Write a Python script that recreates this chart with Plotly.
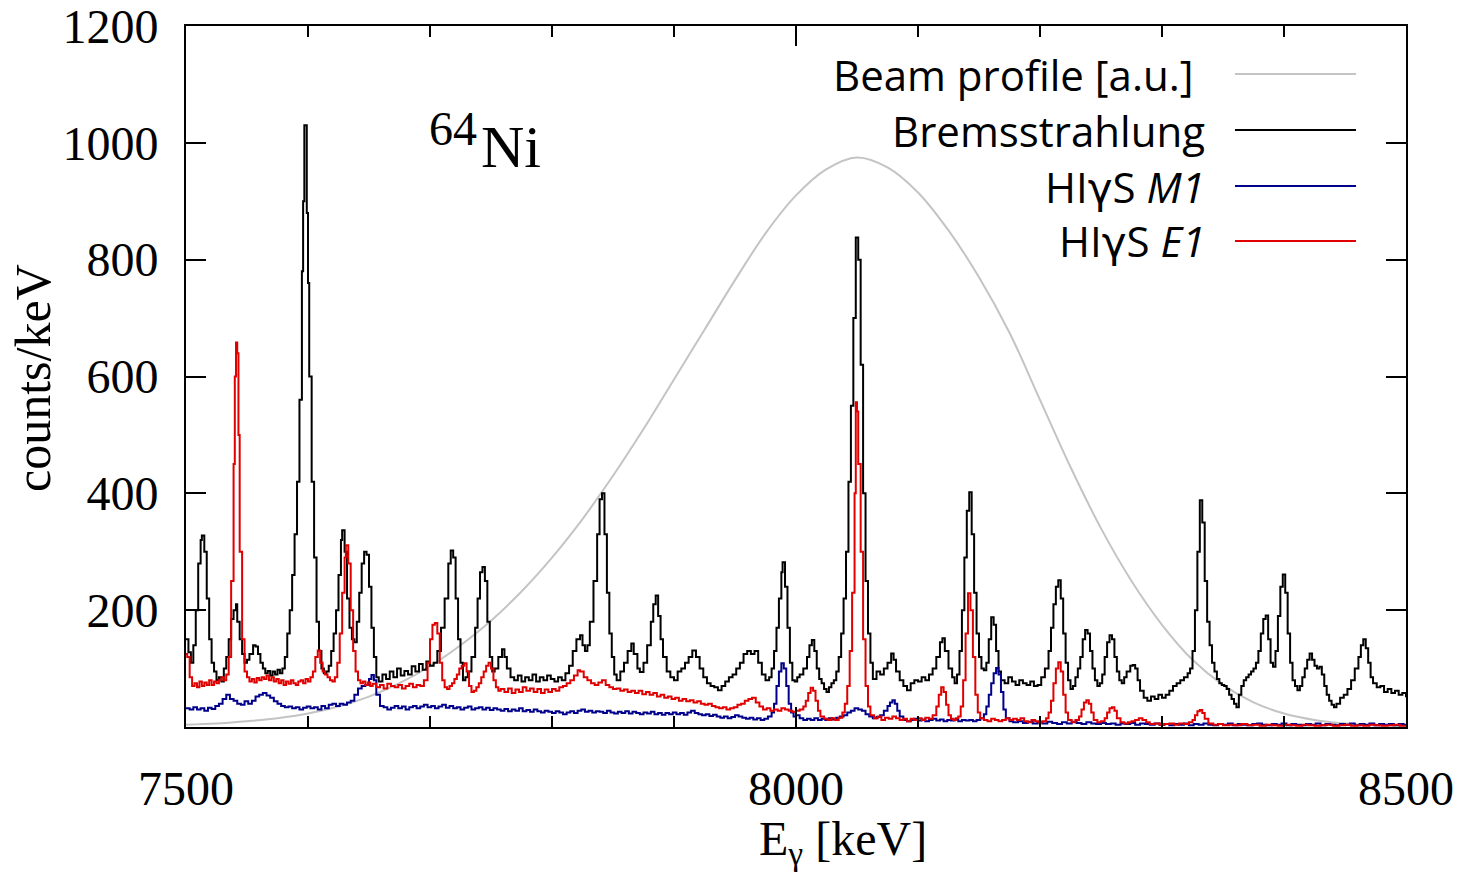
import plotly.graph_objects as go

# ---------------- data ----------------
# Beam profile [a.u.] : (E keV, value)
beam_E = [7500, 7525, 7550, 7575, 7600, 7625, 7650, 7675, 7700, 7725, 7750, 7775,
          7800, 7825, 7850, 7875, 7900, 7925, 7950, 7975, 8000, 8025, 8050, 8075,
          8100, 8125, 8150, 8175, 8200, 8225, 8250, 8275, 8300, 8325, 8350, 8375,
          8400, 8425, 8450, 8475, 8500]
beam_val = [4, 6, 10, 15, 23, 35, 52, 75, 104, 140, 182, 232,
            290, 356, 430, 510, 595, 680, 765, 845, 910, 955, 975, 958,
            915, 850, 770, 675, 560, 445, 340, 250, 175, 115, 72, 42,
            23, 12, 6, 3, 2]

# Bremsstrahlung spectrum (E keV, counts/keV)
brems = [
    (7500,150),(7502,128),(7504,110),(7506,140),(7508,200),(7510,280),(7512,320),(7513,328),
    (7515,300),(7517,220),(7519,150),(7521,110),(7523,95),(7525,80),(7527,85),(7529,78),
    (7531,100),(7533,120),(7535,150),(7537,185),(7539,200),(7541,210),(7542,180),(7544,150),
    (7546,125),(7548,110),(7550,115),(7552,125),(7555,140),(7557,138),(7559,125),(7561,110),
    (7563,100),(7565,92),(7567,96),(7569,88),(7571,95),(7573,90),(7575,98),(7577,92),
    (7579,100),(7581,120),(7583,160),(7585,200),(7587,260),(7589,330),(7591,420),(7593,560),
    (7595,780),(7596,900),(7597,1030),(7598,1030),(7599,880),(7600,760),(7601,600),(7603,420),
    (7605,290),(7607,180),(7609,130),(7611,100),(7613,92),(7615,95),(7617,105),(7619,130),
    (7621,160),(7623,200),(7625,260),(7627,320),(7628,337),(7630,300),(7632,220),(7634,170),
    (7636,150),(7638,145),(7640,180),(7642,230),(7644,280),(7646,300),(7648,295),(7650,240),
    (7652,170),(7654,120),(7656,85),(7658,78),(7661,90),(7664,82),(7667,95),(7670,85),
    (7673,100),(7676,88),(7679,96),(7682,90),(7685,104),(7688,95),(7691,108),(7694,98),
    (7697,112),(7700,105),(7703,110),(7706,130),(7709,170),(7712,220),(7715,280),(7717,302),
    (7719,290),(7721,220),(7723,150),(7725,110),(7727,80),(7729,85),(7731,95),(7734,120),
    (7737,170),(7739,220),(7741,265),(7743,274),(7745,250),(7747,180),(7749,120),(7751,95),
    (7753,100),(7756,120),(7759,133),(7761,120),(7763,100),(7766,85),(7769,80),(7772,88),
    (7775,78),(7778,85),(7781,80),(7784,90),(7787,78),(7790,85),(7793,80),(7796,88),
    (7799,82),(7802,78),(7805,85),(7808,80),(7811,92),(7814,105),(7817,130),(7820,150),
    (7823,157),(7825,140),(7827,130),(7829,140),(7831,180),(7834,250),(7837,330),(7839,390),
    (7841,400),(7843,330),(7845,230),(7847,160),(7849,120),(7851,90),(7853,80),(7856,95),
    (7859,110),(7862,130),(7865,143),(7867,125),(7870,100),(7872,94),(7875,110),(7878,140),
    (7881,180),(7883,210),(7885,225),(7887,190),(7889,150),(7891,120),(7894,95),(7897,85),
    (7900,80),(7903,95),(7906,100),(7909,110),(7912,120),(7915,131),(7918,120),(7921,100),
    (7924,85),(7927,75),(7930,70),(7933,68),(7936,63),(7939,70),(7942,78),(7945,85),
    (7948,90),(7951,100),(7954,110),(7957,125),(7960,130),(7963,125),(7966,130),(7969,110),
    (7972,90),(7975,80),(7978,85),(7980,100),(7982,130),(7984,170),(7986,220),(7988,265),
    (7989,282),(7991,240),(7993,170),(7995,110),(7997,80),(7999,78),(8001,85),(8003,90),
    (8006,100),(8009,120),(8011,140),(8013,149),(8015,130),(8017,100),(8019,82),(8021,75),
    (8023,65),(8025,60),(8027,68),(8029,75),(8031,80),(8033,95),(8035,120),(8037,160),
    (8039,220),(8041,300),(8043,420),(8045,550),(8047,700),(8049,838),(8051,800),(8053,620),
    (8055,400),(8057,250),(8059,160),(8061,110),(8063,82),(8066,95),(8069,90),(8072,100),
    (8075,110),(8078,126),(8080,115),(8082,95),(8085,80),(8088,70),(8091,63),(8094,75),
    (8097,80),(8100,78),(8103,85),(8106,80),(8109,90),(8112,100),(8115,120),(8118,145),
    (8120,152),(8122,130),(8125,100),(8128,85),(8130,75),(8132,90),(8134,130),(8136,200),
    (8138,290),(8140,370),(8142,402),(8144,330),(8146,230),(8148,160),(8150,120),(8152,100),
    (8154,97),(8156,110),(8158,150),(8160,188),(8162,175),(8164,130),(8166,95),(8168,80),
    (8171,75),(8174,85),(8177,78),(8180,72),(8183,80),(8186,75),(8189,72),(8192,78),
    (8195,70),(8198,72),(8201,85),(8204,100),(8207,130),(8209,170),(8211,210),(8213,240),
    (8215,251),(8217,220),(8219,160),(8221,110),(8223,80),(8225,65),(8227,70),(8229,85),
    (8231,100),(8233,120),(8235,150),(8237,166),(8239,160),(8241,130),(8243,100),(8245,80),
    (8247,70),(8249,75),(8251,90),(8253,120),(8255,145),(8257,157),(8259,150),(8261,120),
    (8263,95),(8265,80),(8267,75),(8269,85),(8271,95),(8274,105),(8276,106),(8278,100),
    (8280,80),(8282,62),(8285,50),(8288,45),(8291,52),(8294,48),(8297,55),(8300,50),
    (8303,55),(8306,62),(8309,70),(8312,75),(8315,80),(8318,85),(8321,92),(8323,100),
    (8325,130),(8327,200),(8329,300),(8331,388),(8333,350),(8335,250),(8337,180),(8339,140),
    (8341,110),(8343,95),(8345,82),(8347,75),(8349,72),(8351,70),(8353,65),(8355,55),
    (8357,48),(8359,40),(8361,34),(8363,55),(8365,70),(8367,80),(8369,85),(8371,90),
    (8373,95),(8375,100),(8377,110),(8379,130),(8381,160),(8383,185),(8385,191),(8387,150),
    (8389,110),(8391,103),(8393,130),(8395,190),(8397,240),(8399,261),(8401,230),(8403,160),
    (8405,110),(8407,80),(8409,70),(8411,63),(8413,70),(8415,85),(8417,100),(8419,115),
    (8421,126),(8423,115),(8425,105),(8427,100),(8429,103),(8431,90),(8433,70),(8435,55),
    (8437,45),(8439,38),(8441,34),(8443,40),(8446,50),(8449,55),(8452,65),(8455,80),
    (8458,100),(8461,120),(8463,140),(8465,150),(8467,135),(8469,110),(8471,85),(8473,75),
    (8476,68),(8479,70),(8482,60),(8485,65),(8488,58),(8491,62),(8494,55),(8497,58),(8500,51),
]

# HIgS M1 spectrum
higs_m1 = [
    (7500,32),(7503,30),(7506,34),(7509,30),(7512,32),(7515,28),(7518,33),(7521,31),
    (7524,36),(7527,40),(7530,48),(7533,55),(7536,48),(7539,45),(7542,40),(7545,38),
    (7548,44),(7551,40),(7554,45),(7557,52),(7560,55),(7563,58),(7566,54),(7569,50),
    (7572,44),(7575,40),(7578,36),(7581,34),(7584,35),(7587,32),(7590,34),(7593,30),
    (7596,33),(7599,35),(7602,32),(7605,34),(7608,30),(7611,36),(7614,32),(7617,38),
    (7620,40),(7623,36),(7626,40),(7629,38),(7632,42),(7635,45),(7638,55),(7641,66),
    (7644,70),(7647,72),(7650,82),(7652,89),(7654,80),(7656,55),(7659,36),(7662,34),
    (7665,30),(7668,33),(7671,36),(7674,32),(7677,35),(7680,30),(7683,34),(7686,36),
    (7689,32),(7692,35),(7695,38),(7698,34),(7701,36),(7704,32),(7707,35),(7710,38),
    (7713,33),(7716,36),(7719,32),(7722,34),(7725,30),(7728,33),(7731,35),(7734,30),
    (7737,32),(7740,34),(7743,30),(7746,33),(7749,29),(7752,32),(7755,30),(7758,28),
    (7761,31),(7764,27),(7767,30),(7770,28),(7773,32),(7776,27),(7779,29),(7782,26),
    (7785,30),(7788,27),(7791,25),(7794,28),(7797,26),(7800,24),(7803,27),(7806,25),
    (7809,22),(7812,25),(7815,27),(7818,24),(7821,28),(7824,30),(7827,26),(7830,28),
    (7833,25),(7836,27),(7839,26),(7842,24),(7845,28),(7848,25),(7851,23),(7854,26),
    (7857,24),(7860,27),(7863,23),(7866,26),(7869,24),(7872,22),(7875,25),(7878,23),
    (7881,26),(7884,22),(7887,24),(7890,21),(7893,24),(7896,22),(7899,25),(7902,22),
    (7905,24),(7908,21),(7911,25),(7914,28),(7917,24),(7920,22),(7923,20),(7926,22),
    (7929,19),(7932,21),(7935,18),(7938,16),(7941,18),(7944,15),(7947,17),(7950,20),
    (7953,18),(7956,16),(7959,14),(7962,16),(7965,13),(7968,15),(7971,12),(7974,14),
    (7977,18),(7980,25),(7982,40),(7984,70),(7986,95),(7988,109),(7990,100),(7992,70),
    (7994,40),(7996,25),(7998,18),(8000,20),(8003,15),(8006,12),(8009,14),(8012,12),
    (8015,15),(8018,12),(8021,14),(8024,12),(8027,15),(8030,13),(8033,16),(8036,18),
    (8039,20),(8042,25),(8045,28),(8048,32),(8051,30),(8054,28),(8057,22),(8060,18),
    (8063,15),(8066,17),(8069,20),(8072,28),(8075,36),(8077,42),(8079,46),(8081,40),
    (8083,28),(8085,18),(8088,12),(8091,10),(8094,12),(8097,14),(8100,11),(8103,13),
    (8106,10),(8109,12),(8112,14),(8115,11),(8118,13),(8121,10),(8124,12),(8127,11),
    (8130,13),(8133,10),(8136,12),(8139,11),(8142,12),(8145,10),(8148,12),(8151,15),
    (8154,22),(8156,35),(8158,55),(8160,75),(8162,92),(8164,101),(8166,90),(8168,60),
    (8170,30),(8172,15),(8175,10),(8178,8),(8182,10),(8186,7),(8190,9),(8194,6),
    (8198,8),(8202,6),(8206,9),(8210,7),(8214,5),(8218,8),(8222,6),(8226,9),
    (8230,7),(8234,5),(8238,8),(8242,6),(8246,5),(8250,7),(8254,5),(8258,6),
    (8262,4),(8266,6),(8270,5),(8274,7),(8278,4),(8282,6),(8286,5),(8290,4),
    (8294,6),(8298,4),(8302,5),(8306,3),(8310,5),(8314,4),(8318,6),(8322,3),
    (8326,5),(8330,4),(8334,6),(8338,4),(8342,3),(8346,5),(8350,4),(8354,6),
    (8358,3),(8362,5),(8366,4),(8370,3),(8374,5),(8378,6),(8382,4),(8386,3),
    (8390,5),(8394,4),(8398,6),(8402,3),(8406,5),(8410,4),(8414,3),(8418,5),
    (8422,4),(8426,6),(8430,3),(8434,5),(8438,4),(8442,3),(8446,5),(8450,4),
    (8454,6),(8458,3),(8462,5),(8466,4),(8470,6),(8474,3),(8478,5),(8482,4),
    (8486,5),(8490,3),(8494,5),(8498,4),(8500,5),
]

# HIgS E1 spectrum
higs_e1 = [
    (7500,125),(7501,120),(7503,85),(7505,70),(7507,75),(7509,68),(7511,78),(7513,70),
    (7515,76),(7517,72),(7519,80),(7521,72),(7523,78),(7525,75),(7527,80),(7529,85),
    (7531,80),(7533,90),(7535,120),(7537,250),(7539,450),(7540,600),(7541,658),(7542,640),
    (7543,500),(7544,300),(7546,150),(7548,95),(7550,85),(7552,78),(7554,82),(7556,76),
    (7558,84),(7560,80),(7562,85),(7564,82),(7566,88),(7568,80),(7570,85),(7572,78),
    (7574,82),(7576,75),(7578,80),(7580,72),(7582,78),(7584,74),(7586,80),(7588,75),
    (7590,72),(7592,78),(7594,80),(7596,75),(7598,82),(7600,78),(7602,85),(7604,95),
    (7606,120),(7608,131),(7610,110),(7612,95),(7614,90),(7616,85),(7618,80),(7620,78),
    (7622,85),(7624,110),(7626,160),(7628,230),(7630,290),(7631,311),(7633,280),(7635,200),
    (7637,130),(7639,95),(7641,80),(7643,75),(7645,78),(7647,72),(7649,76),(7651,70),
    (7653,74),(7656,68),(7659,72),(7662,66),(7665,74),(7668,70),(7671,68),(7674,72),
    (7677,66),(7680,70),(7683,74),(7686,68),(7689,72),(7692,70),(7695,80),(7698,110),
    (7700,150),(7702,175),(7704,178),(7706,160),(7708,110),(7710,80),(7712,68),(7714,65),
    (7716,70),(7718,75),(7720,82),(7722,90),(7724,100),(7726,105),(7728,109),(7730,95),
    (7732,70),(7734,60),(7736,62),(7738,68),(7740,75),(7742,85),(7744,95),(7746,105),
    (7748,110),(7750,100),(7752,80),(7754,68),(7756,62),(7758,65),(7761,60),(7764,66),
    (7767,58),(7770,64),(7773,60),(7776,68),(7779,62),(7782,66),(7785,60),(7788,65),
    (7791,58),(7794,64),(7797,60),(7800,65),(7803,62),(7806,68),(7809,70),(7812,75),
    (7815,80),(7818,88),(7821,97),(7823,95),(7826,85),(7829,80),(7832,75),(7835,72),
    (7838,76),(7841,80),(7844,72),(7847,68),(7850,65),(7853,66),(7856,62),(7859,64),
    (7862,60),(7865,62),(7868,58),(7871,62),(7874,56),(7877,60),(7880,55),(7883,58),
    (7886,52),(7889,55),(7892,50),(7895,52),(7898,48),(7901,50),(7904,45),(7907,48),
    (7910,44),(7913,46),(7916,42),(7919,44),(7922,40),(7925,38),(7928,40),(7931,36),
    (7934,34),(7937,32),(7940,34),(7943,30),(7946,32),(7949,34),(7952,38),(7955,40),
    (7958,45),(7961,48),(7964,50),(7967,42),(7970,35),(7973,30),(7976,32),(7979,28),
    (7982,30),(7985,28),(7988,32),(7991,30),(7994,28),(7997,26),(8000,28),(8003,30),
    (8006,35),(8008,45),(8010,58),(8012,67),(8014,62),(8016,45),(8018,28),(8020,18),
    (8023,14),(8026,12),(8029,15),(8032,12),(8035,16),(8038,25),(8040,40),(8042,70),
    (8044,130),(8046,230),(8048,400),(8049,556),(8050,540),(8051,450),(8053,300),(8055,150),
    (8057,70),(8059,35),(8061,20),(8064,15),(8067,18),(8070,12),(8073,16),(8076,14),
    (8079,18),(8082,15),(8085,12),(8088,14),(8091,10),(8094,14),(8097,12),(8100,15),
    (8103,12),(8106,16),(8109,14),(8112,20),(8115,35),(8117,55),(8119,68),(8121,60),
    (8123,38),(8125,20),(8127,14),(8129,12),(8131,15),(8133,18),(8135,35),(8137,80),
    (8139,160),(8141,229),(8143,200),(8145,120),(8147,55),(8149,25),(8151,15),(8154,12),
    (8157,10),(8160,14),(8163,12),(8166,10),(8169,12),(8172,15),(8175,12),(8178,14),
    (8181,12),(8184,15),(8187,10),(8190,8),(8193,12),(8196,10),(8199,8),(8202,10),
    (8205,15),(8207,25),(8209,45),(8211,75),(8213,100),(8215,111),(8217,95),(8219,55),
    (8221,25),(8223,12),(8226,8),(8229,12),(8232,18),(8234,30),(8236,42),(8238,46),
    (8240,40),(8242,25),(8244,12),(8247,8),(8250,10),(8253,15),(8255,25),(8257,32),
    (8259,34),(8261,28),(8263,15),(8266,8),(8269,6),(8272,8),(8275,10),(8278,12),
    (8281,15),(8284,12),(8287,8),(8290,5),(8294,6),(8298,4),(8302,5),(8306,6),
    (8310,4),(8314,6),(8318,5),(8322,8),(8325,12),(8327,20),(8329,27),(8331,29),
    (8333,24),(8335,14),(8338,6),(8342,4),(8346,5),(8350,3),(8355,4),(8360,3),
    (8365,5),(8370,3),(8375,4),(8380,2),(8385,4),(8390,3),(8395,2),(8400,4),
    (8405,3),(8410,2),(8415,4),(8420,3),(8425,2),(8430,3),(8435,4),(8440,2),
    (8445,3),(8450,4),(8455,2),(8460,3),(8465,2),(8470,4),(8475,3),(8480,2),
    (8485,3),(8490,4),(8495,2),(8500,3),
]

GAMMA = "<span style=\"font-family:'DejaVu Sans'\">γ</span>"
series_names = ["Beam profile [a.u.]", "Bremsstrahlung",
                "HI" + GAMMA + "S <i>M1</i>", "HI" + GAMMA + "S <i>E1</i>"]
series_colors = ["#c4c4c4", "#000000", "#00008b", "#e00000"]

x_ticks = [7500, 8000, 8500]
y_ticks = [200, 400, 600, 800, 1000, 1200]

# ---------------- figure ----------------
W, H = 1464, 872
L, R, T, B = 186, 58, 26, 145
PW, PH = W - L - R, H - T - B

def px(xp):
    return (xp - L) / PW

def py(yp):
    return (H - B - yp) / PH

fig = go.Figure()

fig.add_trace(go.Scatter(x=beam_E, y=beam_val, mode="lines", name="Beam profile [a.u.]",
                         line=dict(color=series_colors[0], width=2, shape="spline"),
                         showlegend=False))
for data, name, col in [(brems, "Bremsstrahlung", series_colors[1]),
                        (higs_m1, "HIγS M1", series_colors[2]),
                        (higs_e1, "HIγS E1", series_colors[3])]:
    xs = [p[0] for p in data]
    ys = [p[1] for p in data]
    fig.add_trace(go.Scatter(x=xs, y=ys, mode="lines", name=name,
                             line=dict(color=col, width=2, shape="hv"),
                             showlegend=False))

serif = "Liberation Serif, Times New Roman, serif"
sans = "Open Sans, Noto Sans, sans-serif"

fig.update_layout(
    width=W, height=H,
    margin=dict(l=L, r=R, t=T, b=B, pad=0, autoexpand=False),
    paper_bgcolor="white", plot_bgcolor="white",
    showlegend=False,
    xaxis=dict(range=[7500, 8500], tickvals=x_ticks, ticktext=[str(v) for v in x_ticks],
               automargin=False, ticklabeloverflow="allow",
               showgrid=False, zeroline=False, showline=True, linecolor="black", linewidth=2,
               mirror="ticks", ticks="inside", ticklen=20, tickwidth=2, tickcolor="black",
               minor=dict(dtick=100, ticks="inside", ticklen=11, tickwidth=2, tickcolor="black", showgrid=False),
               tickfont=dict(family=serif, size=48, color="black"), ticklabelstandoff=18),
    yaxis=dict(range=[0, 1200], tickvals=y_ticks, ticktext=[str(v) for v in y_ticks],
               automargin=False, ticklabeloverflow="allow",
               showgrid=False, zeroline=False, showline=True, linecolor="black", linewidth=2,
               mirror="ticks", ticks="inside", ticklen=20, tickwidth=2, tickcolor="black",
               tickfont=dict(family=serif, size=48, color="black"), ticklabelstandoff=16),
)

ann = []
# axis titles
ann.append(dict(x=px(843), y=py(842), xref="paper", yref="paper", showarrow=False,
                text="E<sub>γ</sub> [keV]", font=dict(family=serif, size=48, color="black"),
                xanchor="center", yanchor="middle"))
ann.append(dict(x=px(33), y=py(378), xref="paper", yref="paper", showarrow=False,
                text="counts/keV", textangle=-90, font=dict(family=serif, size=50, color="black"),
                xanchor="center", yanchor="middle"))
# isotope label
ann.append(dict(x=px(479), y=py(128), xref="paper", yref="paper", showarrow=False,
                text="64", font=dict(family=serif, size=48, color="black"),
                xanchor="right", yanchor="middle"))
ann.append(dict(x=px(479), y=py(147), xref="paper", yref="paper", showarrow=False,
                text="Ni", font=dict(family=serif, size=60, color="black"),
                xanchor="left", yanchor="middle"))

# manual legend (text right-aligned, sample line to the right)
legend_rows = [74, 130, 186, 241]
legend_right = [1195, 1207, 1207, 1207]
for name, col, yrow, xr in zip(series_names, series_colors, legend_rows, legend_right):
    ann.append(dict(x=px(xr), y=py(yrow), xref="paper", yref="paper", showarrow=False,
                    text=name, font=dict(family=sans, size=42, color="black"),
                    xanchor="right", yanchor="middle"))
    fig.add_shape(type="line", xref="paper", yref="paper",
                  x0=px(1235), x1=px(1356), y0=py(yrow), y1=py(yrow),
                  line=dict(color=col, width=2))

fig.update_layout(annotations=ann)
fig.write_html("out.html")
